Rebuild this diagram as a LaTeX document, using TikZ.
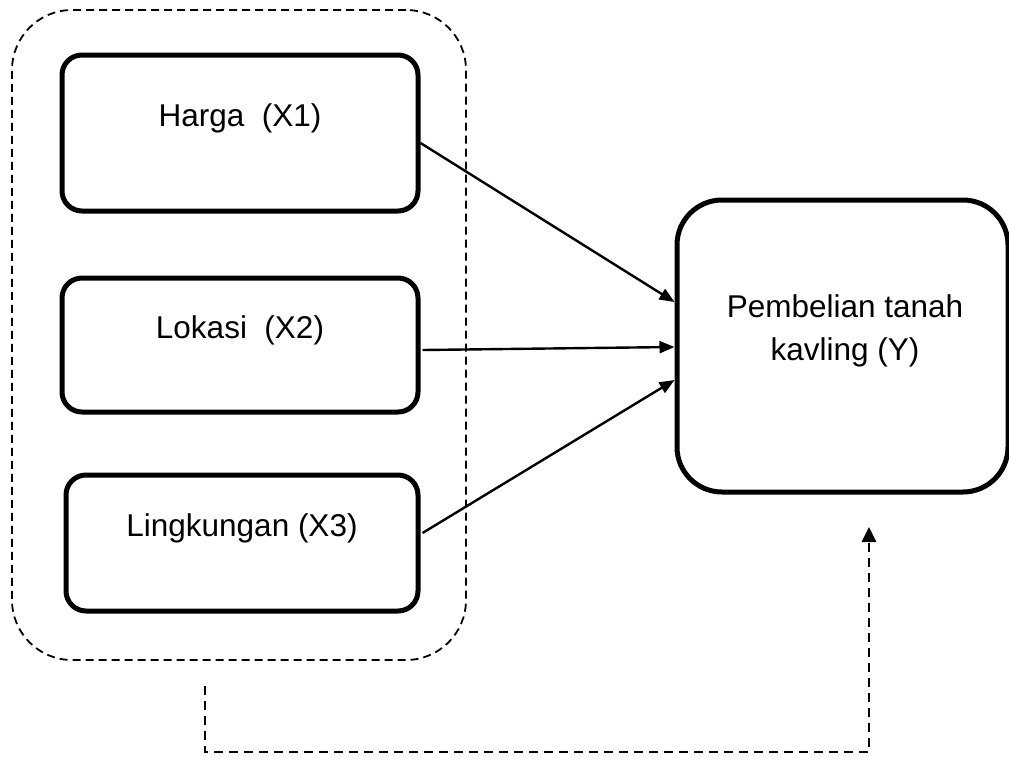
\documentclass[tikz,border=0pt]{standalone}
\usepackage{fontspec}
\setmainfont{Liberation Sans}
\usetikzlibrary{arrows.meta,calc}
\begin{document}
\begin{tikzpicture}[x=1pt,y=-1pt,
  varbox/.style={draw,line width=5pt,rounded corners=20pt,inner sep=0pt},
  ybox/.style={draw,line width=5pt,rounded corners=45pt,inner sep=0pt},
  grpbox/.style={draw,line width=1.8pt,dash pattern=on 8pt off 5pt,rounded corners=60pt,inner sep=0pt},
  lbl/.style={font=\fontsize{31.5}{43}\selectfont,align=center,inner sep=0pt},
  conn/.style={line width=2.4pt,-{Triangle[length=15pt,width=12pt]}},
  fb/.style={line width=2.8pt,dash pattern=on 9pt off 6pt,-{Triangle[length=15pt,width=14pt]}}
]
\useasboundingbox (0,0) rectangle (1009,758);
% group
\node[grpbox,minimum width=454pt,minimum height=650pt] (grp) at (239,335) {};
% variable boxes
\node[varbox,minimum width=356pt,minimum height=156pt] (h) at (240,133) {};
\node[varbox,minimum width=356pt,minimum height=134pt] (l) at (240,345) {};
\node[varbox,minimum width=352pt,minimum height=136pt] (k) at (242,543) {};
\node[ybox,minimum width=331pt,minimum height=292pt] (y) at (842.5,346) {};
% labels
\node[lbl] (ht) at (240,118) {Harga\ \ (X1)};
\node[lbl] (lt) at (240,330) {Lokasi\ \ (X2)};
\node[lbl] (kt) at (242,528) {Lingkungan (X3)};
\node[lbl] (yt) at (845,331) {Pembelian tanah\\kavling (Y)};
% arrows
\draw[conn] ($(h.east)+(0,10)$) -- ($(y.west)+(0,-44)$);
\draw[conn] ($(l.east)+(2,5)$) -- ($(y.west)+(0,1)$);
\draw[conn] ($(k.east)+(2,-10)$) -- ($(y.west)+(0,34)$);
% feedback dashed
\coordinate (fs) at (205,686);
\coordinate (fc1) at (205,752);
\coordinate (fc2) at (869,752);
\coordinate (fe) at (869,527);
\draw[fb] (fs) -- (fc1) -- (fc2) -- (fe);
\end{tikzpicture}
\end{document}
